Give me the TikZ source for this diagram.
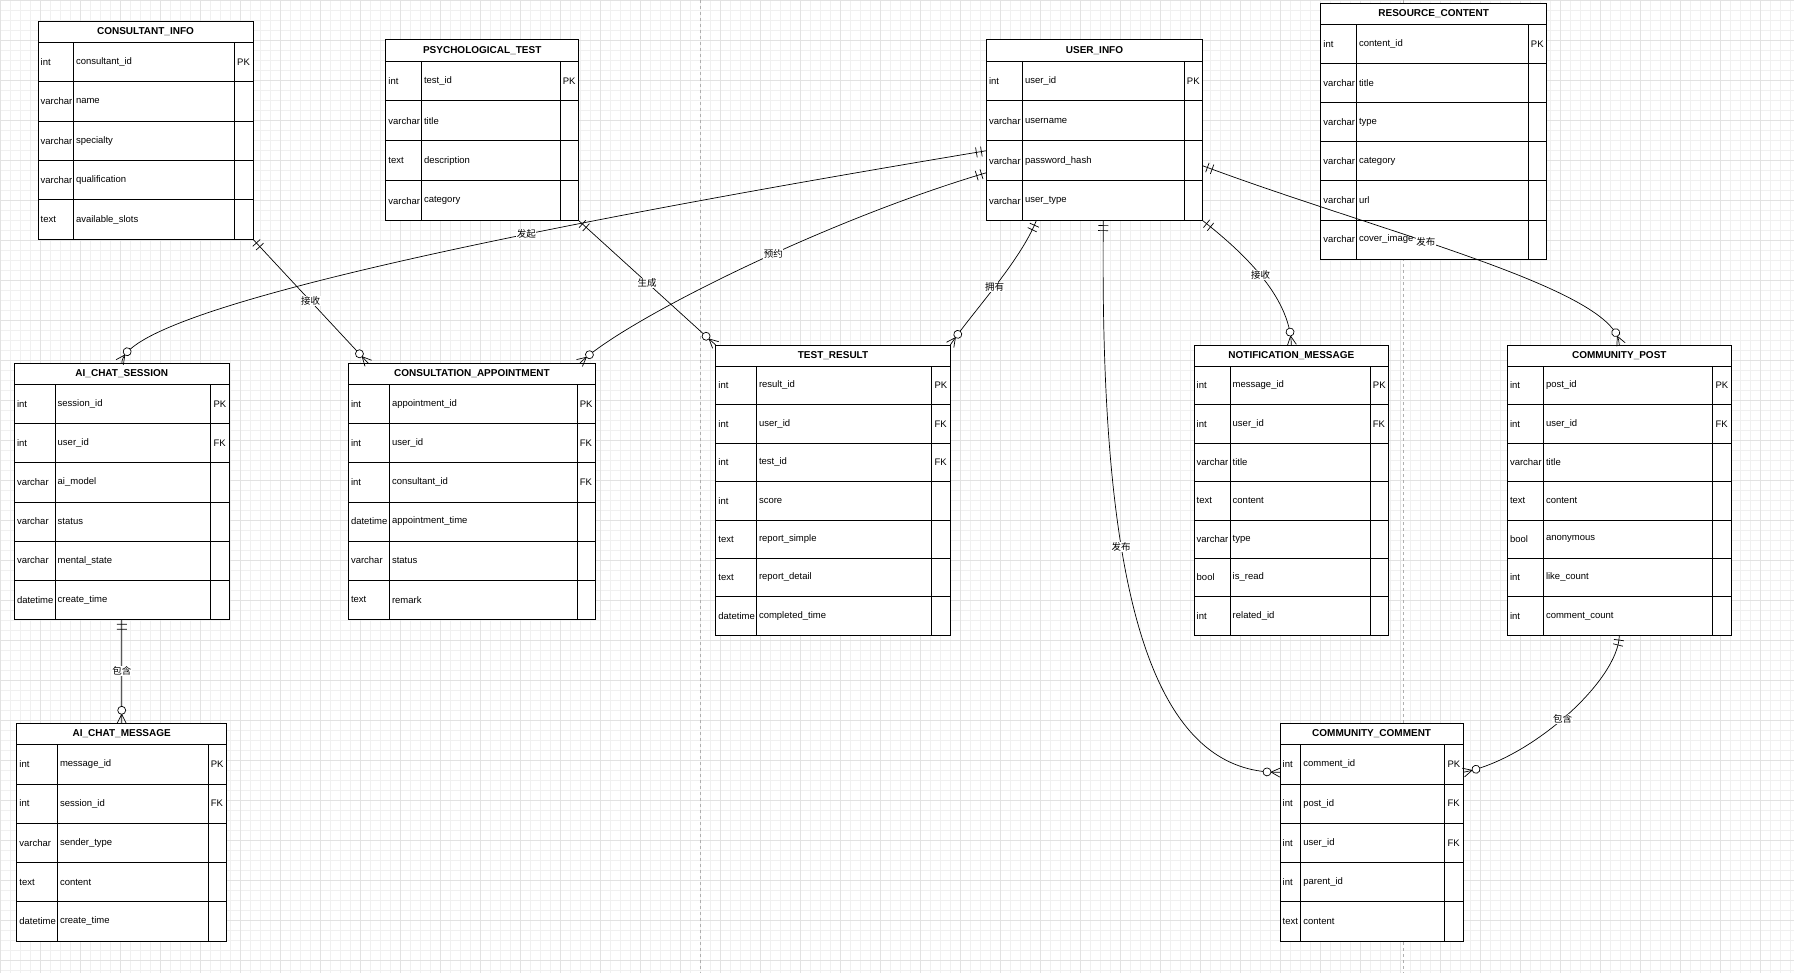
\documentclass[tikz,border=0pt]{standalone}
\usepackage{fontspec}
\setmainfont{Liberation Sans}
\newfontfamily\zhfont{Noto Sans CJK SC}
\usetikzlibrary{calc, fit, positioning, decorations.markings}

\definecolor{gridlight}{RGB}{240,240,240}
\definecolor{griddark}{RGB}{226,226,226}
\definecolor{pageline}{RGB}{175,175,175}

% one entity table: name, north west corner, width, type column, row height, title, rows
\newcommand{\ertable}[7]{%
  \node[erhead, minimum width=#3, anchor=north west] (#1-h) at #2 {#6};
  \foreach \ftype/\fname/\fkey [count=\k] in {#7} {
    \node[errow, minimum width=#3, minimum height=#5, anchor=north west] (#1-\k) at ($(#1-h.south west)+(0,{(\k-1)*#5})$) {};
    \draw[erline] ($(#1-\k.north west)+(#4,0)$) -- ($(#1-\k.south west)+(#4,0)$);
    \draw[erline] ($(#1-\k.north east)+(-18.7,0)$) -- ($(#1-\k.south east)+(-18.7,0)$);
    \node[ertext] at ($(#1-\k.west)+(2.5,0)$) {\ftype};
    \node[ertext] at ($(#1-\k.west)+(#4+2.5,0)$) {\fname};
    \node[ertext] at ($(#1-\k.east)+(-16,0)$) {\fkey};
    \xdef\erlast{\k}
  }
  \node[erframe, fit=(#1-h)(#1-\erlast)] (#1) {};
}

\begin{document}
\begin{tikzpicture}[
    x=1pt, y=-1pt,
    erhead/.style={draw, fill=white, line width=0.8pt, minimum height=21.3, inner sep=0, outer sep=0, font=\fontsize{10}{12}\selectfont\bfseries},
    errow/.style={draw, fill=white, line width=0.8pt, inner sep=0, outer sep=0},
    erline/.style={line width=0.8pt},
    erframe/.style={draw, line width=0.8pt, inner sep=0, outer sep=0},
    ertext/.style={anchor=west, inner sep=0, font=\fontsize{9.5}{11}\selectfont},
    gridthin/.style={draw=gridlight, line width=0.4pt},
    gridthick/.style={draw=griddark, line width=0.4pt},
    rel/.style={line width=0.7pt},
    mandone/.style={postaction={decorate, decoration={markings,
        mark=at position 5pt with {\draw[line width=0.7pt] (0,-5pt) -- (0,5pt);},
        mark=at position 10pt with {\draw[line width=0.7pt] (0,-5pt) -- (0,5pt);}}}},
    zeromany/.style={postaction={decorate, decoration={markings,
        mark=at position -9pt with {\draw[line width=0.7pt] (9pt,-4.5pt) -- (0,0) -- (9pt,4.5pt);
          \draw[line width=0.7pt, fill=white] (-4pt,0) circle (4pt);}}}},
    lbl/.style={fill=white, inner sep=0.6pt, font=\zhfont\fontsize{9.5}{10}\selectfont}
  ]
    % Canvas and grid
    \fill[white] (0,0) rectangle (1794,973);
    \useasboundingbox (0,0) rectangle (1794,973);
    \foreach \gx in {0,10,...,1790} \draw[gridthin] (\gx,0) -- (\gx,973);
    \foreach \gy in {0,10,...,970} \draw[gridthin] (0,\gy) -- (1794,\gy);
    \foreach \gx in {0,40,...,1760} \draw[gridthick] (\gx,0) -- (\gx,973);
    \foreach \gy in {0,40,...,960} \draw[gridthick] (0,\gy) -- (1794,\gy);
    \draw[pageline, dashed, line width=0.5pt] (700,0) -- (700,973);
    \draw[pageline, dashed, line width=0.5pt] (1403,0) -- (1403,973);

    % Top row of tables
    \ertable{consultant}{(38,21)}{215}{35.3}{39.4}{CONSULTANT\_INFO}{int/consultant\_id/PK, varchar/name/{}, varchar/specialty/{}, varchar/qualification/{}, text/available\_slots/{}}
    \ertable{psych}{(385.7,39.7)}{193}{35.6}{39.9}{PSYCHOLOGICAL\_TEST}{int/test\_id/PK, varchar/title/{}, text/description/{}, varchar/category/{}}
    \ertable{userinfo}{(986.3,39.7)}{216.4}{36}{39.9}{USER\_INFO}{int/user\_id/PK, varchar/username/{}, varchar/password\_hash/{}, varchar/user\_type/{}}
    \ertable{resource}{(1320.7,3.3)}{226}{35.6}{39.07}{RESOURCE\_CONTENT}{int/content\_id/PK, varchar/title/{}, varchar/type/{}, varchar/category/{}, varchar/url/{}, varchar/cover\_image/{}}

    % Middle row of tables
    \ertable{aisession}{(14.3,363.3)}{215}{40.7}{39.1}{AI\_CHAT\_SESSION}{int/session\_id/PK, int/user\_id/FK, varchar/ai\_model/{}, varchar/status/{}, varchar/mental\_state/{}, datetime/create\_time/{}}
    \ertable{appoint}{(348.3,363.3)}{247.4}{41}{39.1}{CONSULTATION\_APPOINTMENT}{int/appointment\_id/PK, int/user\_id/FK, int/consultant\_id/FK, datetime/appointment\_time/{}, varchar/status/{}, text/remark/{}}
    \ertable{testres}{(715.7,345)}{234.6}{40.6}{38.4}{TEST\_RESULT}{int/result\_id/PK, int/user\_id/FK, int/test\_id/FK, int/score/{}, text/report\_simple/{}, text/report\_detail/{}, datetime/completed\_time/{}}
    \ertable{notif}{(1194,345)}{194.7}{36}{38.4}{NOTIFICATION\_MESSAGE}{int/message\_id/PK, int/user\_id/FK, varchar/title/{}, text/content/{}, varchar/type/{}, bool/is\_read/{}, int/related\_id/{}}
    \ertable{cpost}{(1507.3,345)}{224}{36}{38.4}{COMMUNITY\_POST}{int/post\_id/PK, int/user\_id/FK, varchar/title/{}, text/content/{}, bool/anonymous/{}, int/like\_count/{}, int/comment\_count/{}}

    % Bottom row of tables
    \ertable{aimsg}{(16.7,723.3)}{210}{40.6}{39.3}{AI\_CHAT\_MESSAGE}{int/message\_id/PK, int/session\_id/FK, varchar/sender\_type/{}, text/content/{}, datetime/create\_time/{}}
    \ertable{ccomment}{(1280,723.3)}{183.3}{20.7}{39.3}{COMMUNITY\_COMMENT}{int/comment\_id/PK, int/post\_id/FK, int/user\_id/FK, int/parent\_id/{}, text/content/{}}

    % Relations from consultant and test
    \draw[rel, mandone, zeromany] (consultant.south east) -- ($(appoint.north west)+(20,0)$) node[lbl, pos=0.5] {接收};
    \draw[rel, mandone, zeromany] (psych.south east) -- (testres.north west) node[lbl, pos=0.5] {生成};

    % Relations from user
    \draw[rel, mandone, zeromany] ($(userinfo-3.west)+(0,-10)$) .. controls (600,215) and (122,305) .. (aisession.north) node[lbl, pos=0.39] {发起};
    \draw[rel, mandone, zeromany] ($(userinfo-3.west)+(0,12)$) .. controls (820,222) and (620,323) .. ($(appoint.north east)+(-16,0)$) node[lbl, pos=0.42] {预约};
    \draw[rel, mandone, zeromany] ($(userinfo.south west)+(50,0)$) .. controls (1020,262) and (970,315) .. (testres.north east) node[lbl, pos=0.5] {拥有};
    \draw[rel, mandone, zeromany] ($(userinfo.south west)+(117,0)$) .. controls (1100,540) and (1135,775) .. ($(ccomment-1.west)+(0,8)$) node[lbl, pos=0.39] {发布};
    \draw[rel, mandone, zeromany] (userinfo.south east) .. controls (1240,250) and (1290,295) .. (notif.north) node[lbl, pos=0.5] {接收};
    \draw[rel, mandone, zeromany] ($(userinfo-3.east)+(0,5)$) .. controls (1380,232) and (1619,290) .. (cpost.north) node[lbl, pos=0.4] {发布};

    % Relations inside chat and community
    \draw[rel, mandone, zeromany] (aisession.south) -- (aimsg.north) node[lbl, midway] {包含};
    \draw[rel, mandone, zeromany] (cpost.south) .. controls (1619,680) and (1530,760) .. ($(ccomment-1.east)+(0,8)$) node[lbl, pos=0.52] {包含};
  \end{tikzpicture}
\end{document}
